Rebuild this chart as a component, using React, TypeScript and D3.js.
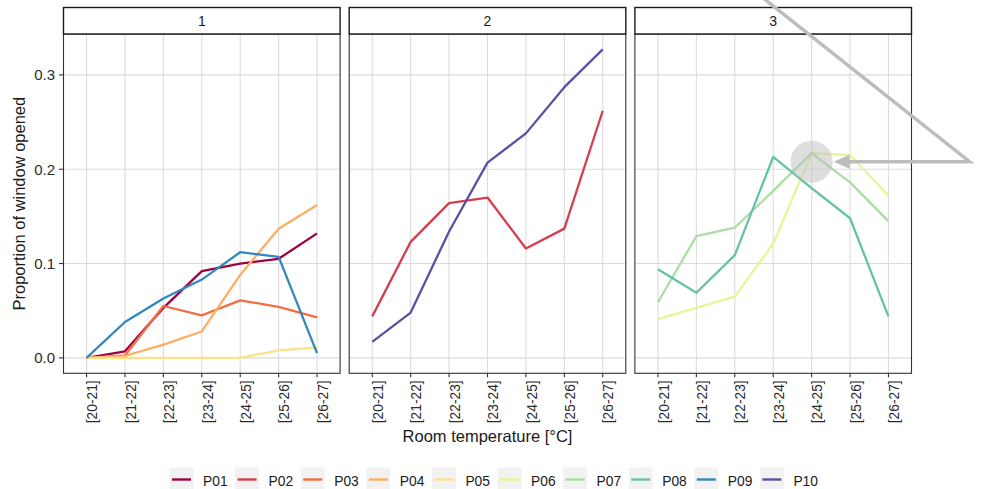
import React from "react";
import * as d3 from "d3";

const categories = ["[20-21]", "[21-22]", "[22-23]", "[23-24]", "[24-25]", "[25-26]", "[26-27]"];
const seriesNames = ["P01", "P02", "P03", "P04", "P05", "P06", "P07", "P08", "P09", "P10"];
const seriesColors = ["#9E0142", "#D53E4F", "#F46D43", "#FDAE61", "#FEE08B", "#E6F598", "#ABDDA4", "#66C2A5", "#3288BD", "#5E4FA2"];
const seriesPanel = [1, 2, 1, 1, 1, 3, 3, 3, 1, 2];
const panels = ["1", "2", "3"];
const yTicks = [0, 0.1, 0.2, 0.3];

const P01 = [0, 0.007, 0.053, 0.092, 0.1, 0.105, 0.132];
const P02 = [0.044, 0.123, 0.164, 0.17, 0.116, 0.137, 0.262];
const P03 = [0, 0.0025, 0.055, 0.045, 0.061, 0.054, 0.043];
const P04 = [0, 0.002, 0.014, 0.028, 0.088, 0.137, 0.162];
const P05 = [0, 0, 0, 0, 0, 0.008, 0.011];
const P06 = [0.041, 0.053, 0.065, 0.121, 0.217, 0.215, 0.172];
const P07 = [0.059, 0.129, 0.138, 0.177, 0.217, 0.186, 0.145];
const P08 = [0.094, 0.069, 0.109, 0.213, 0.18, 0.148, 0.044];
const P09 = [0, 0.038, 0.063, 0.083, 0.112, 0.107, 0.005];
const P10 = [0.017, 0.048, 0.134, 0.207, 0.238, 0.287, 0.327];
const seriesValues = [P01, P02, P03, P04, P05, P06, P07, P08, P09, P10];

const annotationValue = 0.208;
const annotationCategory = "[24-25]";

const FONT = "'Liberation Sans', Arial, Helvetica, sans-serif";

export default function App() {
  const W = 981, H = 489;
  const panelLeft = 63.5, panelW = 276.6, gap = 9.1;
  const panelTop = 34, panelBottom = 373.3;
  const stripTop = 7.5;

  const maxV = d3.max(seriesValues.flat()) as number;
  const minV = d3.min(seriesValues.flat()) as number;
  const span = maxV - minV;
  const y = d3.scaleLinear().domain([minV - span * 0.05, maxV + span * 0.05]).range([panelBottom, panelTop]);

  const xs = panels.map((_, i) => {
    const l = panelLeft + i * (panelW + gap);
    return d3.scalePoint<string>().domain(categories).range([l, l + panelW]).padding(0.6);
  });

  const line = (xsc: d3.ScalePoint<string>) =>
    d3.line<number>().x((_, i) => xsc(categories[i]) as number).y((d) => y(d));

  const cx = xs[2](annotationCategory) as number;
  const cy = y(annotationValue);

  const legendStart = 169.5, legendStep = 65.6;

  return (
    <svg width={W} height={H} style={{ display: "block", position: "absolute", left: 0, top: 0 }} fontFamily={FONT}>
      <rect x={0} y={0} width={W} height={H} fill="#fff" />
      {panels.map((p, pi) => {
        const l = panelLeft + pi * (panelW + gap);
        const xsc = xs[pi];
        return (
          <g key={p}>
            <rect x={l} y={panelTop} width={panelW} height={panelBottom - panelTop} fill="#fff" />
            {yTicks.map((t) => (
              <line key={t} x1={l} x2={l + panelW} y1={y(t)} y2={y(t)} stroke="#dcdcdc" strokeWidth={1.1} />
            ))}
            {categories.map((c) => (
              <line key={c} x1={xsc(c)} x2={xsc(c)} y1={panelTop} y2={panelBottom} stroke="#dcdcdc" strokeWidth={1.1} />
            ))}
            {seriesValues.map((vals, si) =>
              seriesPanel[si] === pi + 1 ? (
                <path key={si} d={line(xsc)(vals) as string} fill="none" stroke={seriesColors[si]} strokeWidth={2.3} strokeLinejoin="round" />
              ) : null
            )}
            <rect x={l} y={panelTop} width={panelW} height={panelBottom - panelTop} fill="none" stroke="#333" strokeWidth={1.1} />
            <rect x={l} y={stripTop} width={panelW} height={panelTop - stripTop} fill="#fff" stroke="#1a1a1a" strokeWidth={1.4} />
            <text x={l + panelW / 2} y={(stripTop + panelTop) / 2 + 5.2} textAnchor="middle" fontSize={14} fill="#1a1a1a">{p}</text>
            {categories.map((c) => (
              <g key={c}>
                <line x1={xsc(c)} x2={xsc(c)} y1={panelBottom} y2={panelBottom + 4} stroke="#333" strokeWidth={1.1} />
                <text transform={`translate(${(xsc(c) as number) + 10.7},${panelBottom + 7}) rotate(-90)`} textAnchor="end" fontSize={13.8} fill="#2b2b2b">{c}</text>
              </g>
            ))}
          </g>
        );
      })}
      {yTicks.map((t) => (
        <g key={t}>
          <line x1={panelLeft - 4.5} x2={panelLeft} y1={y(t)} y2={y(t)} stroke="#333" strokeWidth={1.1} />
          <text x={panelLeft - 8.5} y={y(t) + 5.3} textAnchor="end" fontSize={15} fill="#2b2b2b">{d3.format(".1f")(t)}</text>
        </g>
      ))}
      <text transform={`translate(25,${(panelTop + panelBottom) / 2}) rotate(-90)`} textAnchor="middle" fontSize={16.5} fill="#1a1a1a">Proportion of window opened</text>
      <text x={panelLeft + panelW * 1.5 + gap} y={442} textAnchor="middle" fontSize={16.5} fill="#1a1a1a">Room temperature [°C]</text>

      {/* annotation */}
      <circle cx={cx} cy={cy} r={21} fill="#bdbdbd" fillOpacity={0.5} />
      <polyline points={`${cx - 54},${cy - 168} ${cx + 158},${cy} ${cx + 36},${cy}`} fill="none" stroke="#bdbdbd" strokeWidth={3.5} strokeLinejoin="miter" />
      <polygon points={`${cx + 22},${cy} ${cx + 38},${cy - 7} ${cx + 38},${cy + 7}`} fill="#bdbdbd" />

      {/* legend */}
      {seriesNames.map((n, i) => {
        const lx = legendStart + i * legendStep;
        return (
          <g key={n}>
            <rect x={lx} y={467.5} width={24} height={22} fill="#f2f2f2" />
            <line x1={lx + 2.5} x2={lx + 21.5} y1={479.5} y2={479.5} stroke={seriesColors[i]} strokeWidth={2.4} />
            <text x={lx + 33.5} y={485.5} fontSize={13.8} fill="#1a1a1a">{n}</text>
          </g>
        );
      })}
    </svg>
  );
}
